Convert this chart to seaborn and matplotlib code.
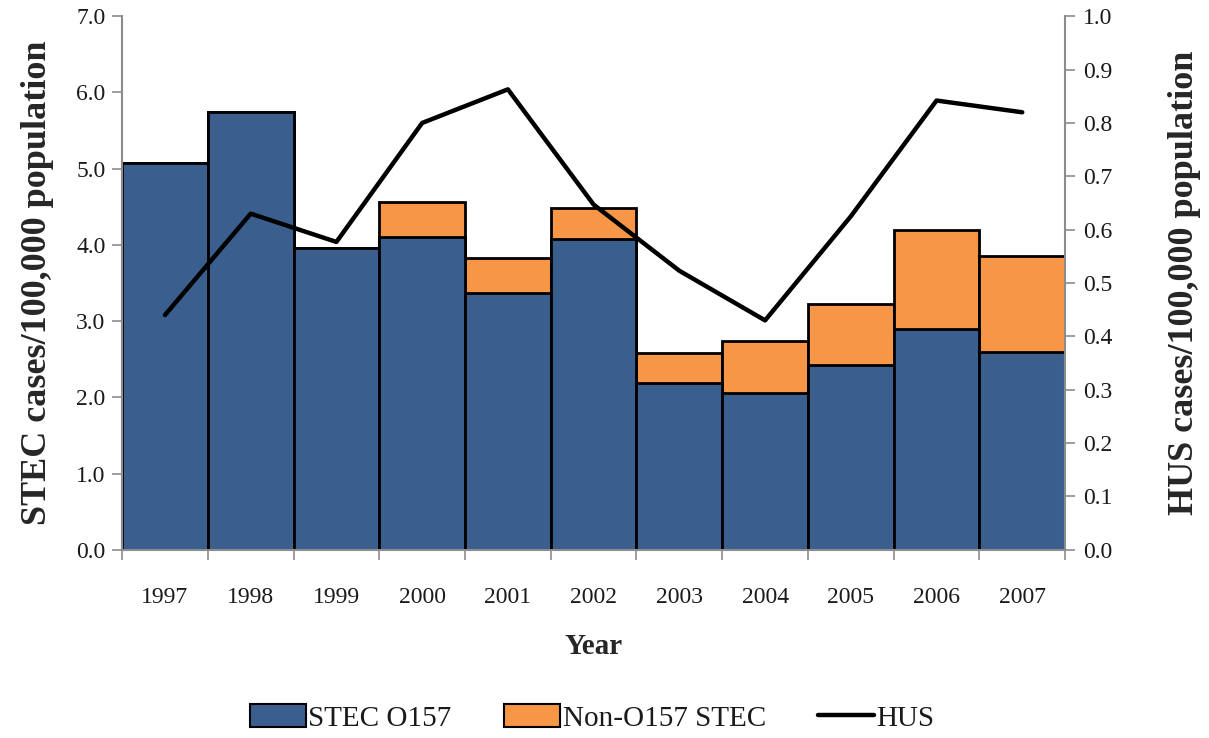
import numpy as np
import pandas as pd
import matplotlib
matplotlib.use("Agg")
import matplotlib.pyplot as plt
from matplotlib.patches import Patch
from matplotlib.lines import Line2D
from matplotlib.ticker import FormatStrFormatter, FixedLocator
import seaborn as sns

years = ["1997", "1998", "1999", "2000", "2001", "2002", "2003", "2004", "2005", "2006", "2007"]
stec_o157 = [5.07, 5.74, 3.96, 4.10, 3.37, 4.08, 2.19, 2.06, 2.43, 2.90, 2.60]
non_o157 = [0.00, 0.00, 0.00, 0.46, 0.46, 0.40, 0.39, 0.68, 0.79, 1.30, 1.25]
hus = [0.44, 0.63, 0.577, 0.80, 0.863, 0.647, 0.523, 0.43, 0.625, 0.842, 0.82]

BLUE = "#3A5F8F"
ORANGE = "#F79646"
SPINE = "#8C8C8C"
TEXT = "#1A1A1A"

df = pd.DataFrame({
    "year": years,
    "o157": stec_o157,
    "total": np.array(stec_o157) + np.array(non_o157),
    "hus": hus,
})
df["pos"] = np.arange(len(df))

sns.set_style("white")
plt.rcParams["font.family"] = ["Liberation Serif", "DejaVu Serif"]
plt.rcParams["text.color"] = TEXT
plt.rcParams["xtick.labelcolor"] = TEXT
plt.rcParams["ytick.labelcolor"] = TEXT

fig = plt.figure(figsize=(12.09, 7.38), dpi=100)
ax = fig.add_axes([0.101, 0.255, 0.78, 0.723])

# stacked bars: total drawn first, O157 on top of it
sns.barplot(data=df, x="year", y="total", color=ORANGE, width=1.0,
            edgecolor="black", linewidth=2, saturation=1, ax=ax)
sns.barplot(data=df, x="year", y="o157", color=BLUE, width=1.0,
            edgecolor="black", linewidth=2, saturation=1, ax=ax)

ax.set_xlim(-0.5, len(years) - 0.5)
ax.set_ylim(0, 7.0)
ax.set_yticks(np.arange(0, 7.01, 1.0))
ax.yaxis.set_major_formatter(FormatStrFormatter("%.1f"))

# category boundaries carry the tick marks, centers carry the labels
ax.xaxis.set_major_locator(FixedLocator(np.arange(-0.5, len(years), 1.0)))
ax.xaxis.set_minor_locator(FixedLocator(np.arange(len(years))))
ax.set_xticklabels([""] * (len(years) + 1))
ax.set_xticklabels(years, minor=True)
ax.tick_params(axis="x", which="major", length=7, width=1.2, color=SPINE, direction="out", bottom=True)
ax.tick_params(axis="x", which="minor", length=0, pad=27, labelsize=17)
ax.tick_params(axis="y", length=7, width=1.2, color=SPINE, direction="out", labelsize=17, left=True, pad=5)

ax.set_xlabel("Year", fontsize=21, fontweight="bold", labelpad=18)
ax.set_ylabel("STEC cases/100,000 population", fontsize=26, fontweight="bold", labelpad=16)

for side in ("top", "right"):
    ax.spines[side].set_visible(False)
for side in ("left", "bottom"):
    ax.spines[side].set_color(SPINE)
    ax.spines[side].set_linewidth(1.5)

ax2 = ax.twinx()
sns.lineplot(data=df, x="pos", y="hus", color="black", linewidth=3.2, ax=ax2, legend=False)
ax2.set_ylim(0, 1.0)
ax2.set_yticks(np.arange(0, 1.001, 0.1))
ax2.yaxis.set_major_formatter(FormatStrFormatter("%.1f"))
ax2.tick_params(axis="y", length=7, width=1.2, color=SPINE, direction="out", labelsize=17, right=True, pad=6)
ax2.set_ylabel("HUS cases/100,000 population", fontsize=26, fontweight="bold", labelpad=40)
ax2.set_xlabel("")
for side in ("top", "left", "bottom"):
    ax2.spines[side].set_visible(False)
ax2.spines["right"].set_color(SPINE)
ax2.spines["right"].set_linewidth(1.5)
ax2.set_xlim(-0.5, len(years) - 0.5)

handles = [
    Patch(facecolor=BLUE, edgecolor="black", linewidth=1.5, label="STEC O157"),
    Patch(facecolor=ORANGE, edgecolor="black", linewidth=1.5, label="Non-O157 STEC"),
    Line2D([0], [0], color="black", linewidth=3.2, label="HUS"),
]
fig.legend(handles=handles, loc="center", bbox_to_anchor=(0.49, 0.027), ncol=3,
           frameon=False, fontsize=21, handlelength=1.9, handleheight=0.8,
           handletextpad=0.1, columnspacing=1.8)

fig.savefig("out.png", dpi=100, facecolor="white")
